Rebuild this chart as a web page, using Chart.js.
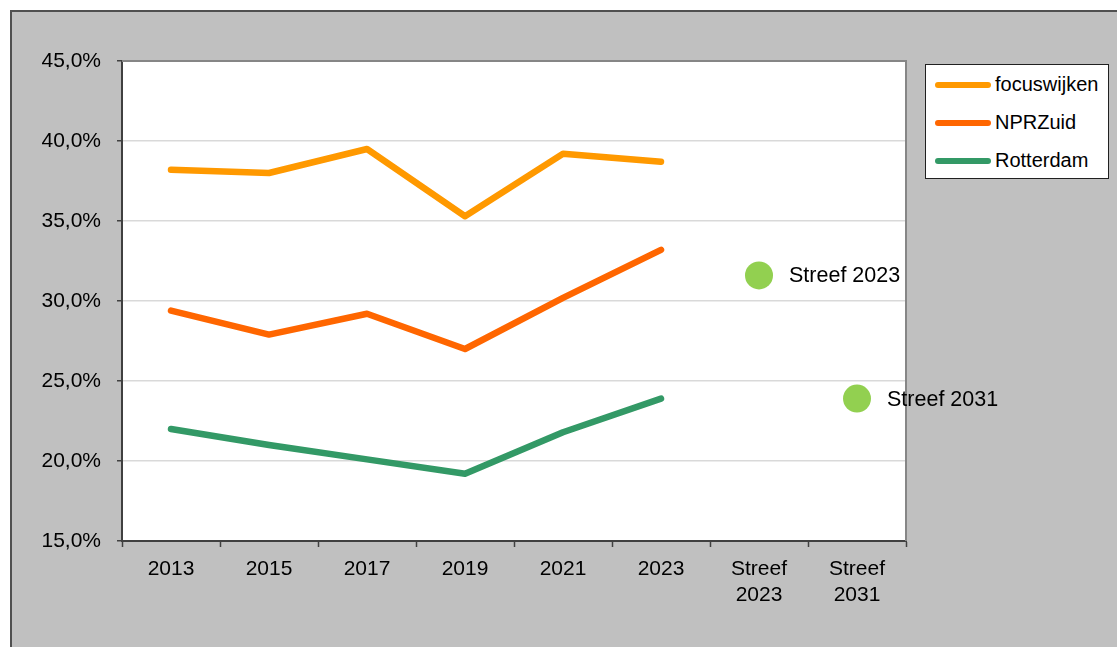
<!DOCTYPE html>
<html>
<head>
<meta charset="utf-8">
<script src="https://cdn.jsdelivr.net/npm/chart.js@4.4.1/dist/chart.umd.min.js"></script>
<style>
	body { margin: 0; background: #ffffff; width: 1117px; height: 647px; overflow: hidden; position: relative; }
	#frame { position: absolute; left: 10px; top: 10px; width: 1120px; height: 650px; background: #c0c0c0; border-left: 2px solid #505050; border-top: 2px solid #505050; }
	#wrap { position: absolute; left: 0; top: 0; width: 1117px; height: 647px; }
	#legend { position: absolute; left: 925px; top: 64px; width: 182px; height: 113px; background: #ffffff; border: 1px solid #202020; font-family: "Liberation Sans", Arial, sans-serif; font-size: 20px; color: #000; }
	.item { position: absolute; left: 9px; height: 24px; line-height: 24px; }
	.swatch { display: inline-block; width: 56px; height: 6px; border-radius: 3px; vertical-align: middle; margin-right: 4px; position: relative; top: -1px; }
</style>
</head>
<body>
<div id="frame"></div>
<div id="wrap"><canvas id="lineChart" width="1117" height="647"></canvas></div>
<div id="legend"></div>
<script>
// categories
var labels = ["2013", "2015", "2017", "2019", "2021", "2023", ["Streef", "2023"], ["Streef", "2031"]];

// series (percent)
var focuswijken = [38.2, 38.0, 39.5, 35.3, 39.2, 38.7, null, null];
var nprZuid = [29.4, 27.9, 29.2, 27.0, 30.2, 33.2, null, null];
var rotterdam = [22.0, 21.0, 20.1, 19.2, 21.8, 23.9, null, null];
var streef = [null, null, null, null, null, null, 31.6, 23.9];
var streefLabels = ["Streef 2023", "Streef 2031"];

var seriesNames = ["focuswijken", "NPRZuid", "Rotterdam"];
var seriesColors = ["#ff9900", "#ff6600", "#339966"];

var FONT = '"Liberation Sans", Arial, sans-serif';

function lineSet(name, data, color) {
	return {
		label: name,
		data: data,
		borderColor: color,
		backgroundColor: color,
		borderWidth: 6.5,
		pointRadius: 0,
		pointHoverRadius: 0,
		tension: 0,
		borderCapStyle: "round",
		borderJoinStyle: "round",
		fill: false,
	};
}

// white plot area + grey top/right edge
var plotBox = {
	id: "plotBox",
	beforeDraw: function (chart) {
		var a = chart.chartArea;
		var ctx = chart.ctx;
		ctx.save();
		ctx.fillStyle = "#ffffff";
		ctx.fillRect(a.left, a.top, a.right - a.left, a.bottom - a.top);
		ctx.restore();
	},
	beforeDatasetsDraw: function (chart) {
		var a = chart.chartArea;
		var ctx = chart.ctx;
		ctx.save();
		ctx.strokeStyle = "#868686";
		ctx.lineWidth = 2;
		ctx.beginPath();
		ctx.moveTo(a.left, a.top);
		ctx.lineTo(a.right, a.top);
		ctx.lineTo(a.right, a.bottom);
		ctx.stroke();
		ctx.restore();
	},
};

// text next to the target points
var streefText = {
	id: "streefText",
	afterDatasetsDraw: function (chart) {
		var meta = chart.getDatasetMeta(3);
		var ctx = chart.ctx;
		var k = 0;
		ctx.save();
		ctx.font = "21.5px " + FONT;
		ctx.fillStyle = "#000000";
		ctx.textBaseline = "middle";
		ctx.textAlign = "left";
		meta.data.forEach(function (pt, i) {
			if (streef[i] === null) return;
			ctx.fillText(streefLabels[k], pt.x + 30, pt.y + 1);
			k++;
		});
		ctx.restore();
	},
};

var chart = new Chart(document.getElementById("lineChart"), {
	type: "line",
	data: {
		labels: labels,
		datasets: [
			lineSet(seriesNames[0], focuswijken, seriesColors[0]),
			lineSet(seriesNames[1], nprZuid, seriesColors[1]),
			lineSet(seriesNames[2], rotterdam, seriesColors[2]),
			{
				label: "Streef",
				data: streef,
				showLine: false,
				pointRadius: 14,
				pointHoverRadius: 14,
				pointBorderWidth: 0,
				pointBackgroundColor: "#92d050",
				borderColor: "#92d050",
			},
		],
	},
	options: {
		responsive: false,
		animation: false,
		layout: { padding: { left: 0, top: 61, right: 211, bottom: 0 } },
		plugins: {
			legend: { display: false },
			tooltip: { enabled: false },
		},
		scales: {
			x: {
				offset: true,
				afterFit: function (s) { s.height = 106; },
				grid: {
					offset: true,
					drawOnChartArea: false,
					tickLength: 6,
					tickColor: "#404040",
					tickWidth: 1.5,
				},
				border: { color: "#404040", width: 2 },
				ticks: {
					color: "#000000",
					padding: 9,
					maxRotation: 0,
					autoSkip: false,
					font: { family: FONT, size: 21, lineHeight: 1.25 },
				},
			},
			y: {
				min: 15,
				max: 45,
				afterFit: function (s) { s.width = 122; },
				grid: {
					color: "#d9d9d9",
					lineWidth: 1.5,
					tickColor: "#404040",
					tickLength: 5,
					tickWidth: 1.5,
				},
				border: { color: "#404040", width: 2 },
				ticks: {
					stepSize: 5,
					color: "#000000",
					padding: 16,
					font: { family: FONT, size: 21 },
					callback: function (v) {
						return v.toFixed(1).replace(".", ",") + "%";
					},
				},
			},
		},
	},
	plugins: [plotBox, streefText],
});

// legend box
var legend = document.getElementById("legend");
seriesNames.forEach(function (name, i) {
	var row = document.createElement("div");
	row.className = "item";
	row.style.top = (7 + i * 38) + "px";
	row.innerHTML = '<span class="swatch" style="background:' + seriesColors[i] + '"></span>' + name;
	legend.appendChild(row);
});
</script>
</body>
</html>
